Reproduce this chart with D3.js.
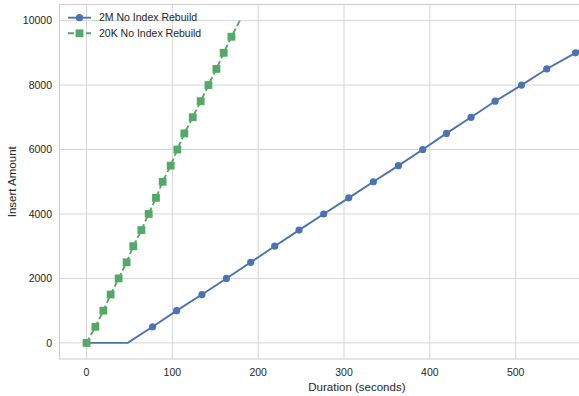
<!DOCTYPE html>
<html>
<head>
<meta charset="utf-8">
<script src="https://cdn.jsdelivr.net/npm/d3@7"></script>
<style>
  html, body { margin: 0; padding: 0; background: #fff; }
  svg { display: block; font-family: "Liberation Sans", Arial, sans-serif; }
</style>
</head>
<body>
<div id="chart"></div>
<script>
// 2M series (seconds, rows inserted)
const blueTime = [0, 48, 77, 105, 134.5, 163, 191.3, 219.2, 247.6, 276.3, 305.5, 334.2,
  363.4, 391.7, 419.3, 448, 476, 506.8, 536.2, 569.7, 600, 630];
const blueInsert = [0, 0, 500, 1000, 1500, 2000, 2500, 3000, 3500, 4000, 4500, 5000,
  5500, 6000, 6500, 7000, 7500, 8000, 8500, 9000, 9500, 10000];
const blueUnmarked = [1];

// 20K series
const greenTime = [0, 10.3, 19.6, 28.1, 37.4, 46.7, 54.5, 63.9, 72.4, 80.9, 88.7,
  98, 105.8, 113.9, 123.7, 133, 142, 151.3, 159.8, 168.8, 178.6];
const greenInsert = [0, 500, 1000, 1500, 2000, 2500, 3000, 3500, 4000, 4500, 5000,
  5500, 6000, 6500, 7000, 7500, 8000, 8500, 9000, 9500, 10000];
const greenUnmarked = [20];

const xTicks = [0, 100, 200, 300, 400, 500];
const yTicks = [0, 2000, 4000, 6000, 8000, 10000];
const seriesNames = ['2M No Index Rebuild', '20K No Index Rebuild'];

const W = 579, H = 396;
const plotL = 59.5, plotR = 654.3, plotT = 4.5, plotB = 359;

const x = d3.scaleLinear().domain([-31.5, 661.5]).range([plotL, plotR]);
const y = d3.scaleLinear().domain([-500, 10500]).range([plotB, plotT]);

const svg = d3.select('#chart').append('svg')
  .attr('width', W).attr('height', H);

svg.append('defs').append('clipPath').attr('id', 'plot-clip')
  .append('rect')
  .attr('x', plotL).attr('y', plotT)
  .attr('width', plotR - plotL).attr('height', plotB - plotT);

const grid = svg.append('g');
grid.selectAll('line.gx').data(xTicks).enter().append('line')
  .attr('x1', d => x(d)).attr('x2', d => x(d))
  .attr('y1', plotT).attr('y2', plotB)
  .attr('stroke', '#d6d6d6').attr('stroke-width', 1);
grid.selectAll('line.gy').data(yTicks).enter().append('line')
  .attr('x1', plotL).attr('x2', plotR)
  .attr('y1', d => y(d)).attr('y2', d => y(d))
  .attr('stroke', '#d6d6d6').attr('stroke-width', 1);

// spines
svg.append('rect')
  .attr('x', plotL).attr('y', plotT)
  .attr('width', plotR - plotL).attr('height', plotB - plotT)
  .attr('fill', 'none').attr('stroke', '#cccccc').attr('stroke-width', 1);

// tick labels
svg.append('g').selectAll('text').data(xTicks).enter().append('text')
  .attr('x', d => x(d)).attr('y', 375.5)
  .attr('text-anchor', 'middle')
  .attr('font-size', '10.5px').attr('fill', '#262626')
  .text(d => d);
svg.append('g').selectAll('text').data(yTicks).enter().append('text')
  .attr('x', 52).attr('y', d => y(d)).attr('dy', '0.36em')
  .attr('text-anchor', 'end')
  .attr('font-size', '10.5px').attr('fill', '#262626')
  .text(d => d);

svg.append('text')
  .attr('x', (plotL + plotR) / 2).attr('y', 391)
  .attr('text-anchor', 'middle')
  .attr('font-size', '11.5px').attr('fill', '#262626')
  .text('Duration (seconds)');
svg.append('text')
  .attr('transform', `translate(16,${(plotT + plotB) / 2}) rotate(-90)`)
  .attr('text-anchor', 'middle')
  .attr('font-size', '11.5px').attr('fill', '#262626')
  .text('Insert Amount');

const plot = svg.append('g').attr('clip-path', 'url(#plot-clip)');
const line = d3.line().x(d => x(d[0])).y(d => y(d[1]));

const blueData = blueTime.map((t, i) => [t, blueInsert[i]]);
const greenData = greenTime.map((t, i) => [t, greenInsert[i]]);

plot.append('path').datum(blueData)
  .attr('d', line).attr('fill', 'none')
  .attr('stroke', '#4C72B0').attr('stroke-width', 1.9);
plot.selectAll('circle.b')
  .data(blueData.filter((d, i) => !blueUnmarked.includes(i)))
  .enter().append('circle')
  .attr('cx', d => x(d[0])).attr('cy', d => y(d[1]))
  .attr('r', 3.6).attr('fill', '#4C72B0');

plot.append('path').datum(greenData)
  .attr('d', line).attr('fill', 'none')
  .attr('stroke', '#55A868').attr('stroke-width', 1.9)
  .attr('stroke-dasharray', '6,3');
plot.selectAll('rect.g')
  .data(greenData.filter((d, i) => !greenUnmarked.includes(i)))
  .enter().append('rect')
  .attr('x', d => x(d[0]) - 3.9).attr('y', d => y(d[1]) - 3.9)
  .attr('width', 7.8).attr('height', 7.8).attr('fill', '#55A868');

// legend
const legend = svg.append('g');
const legendRows = [
  { name: seriesNames[0], color: '#4C72B0', dash: null, marker: 'circle', ly: 17.7 },
  { name: seriesNames[1], color: '#55A868', dash: '6,3', marker: 'square', ly: 33.3 }
];
legendRows.forEach(r => {
  legend.append('line')
    .attr('x1', 68).attr('x2', 91).attr('y1', r.ly).attr('y2', r.ly)
    .attr('stroke', r.color).attr('stroke-width', 1.9)
    .attr('stroke-dasharray', r.dash);
  if (r.marker === 'circle') {
    legend.append('circle').attr('cx', 79.5).attr('cy', r.ly).attr('r', 3.6).attr('fill', r.color);
  } else {
    legend.append('rect').attr('x', 75.6).attr('y', r.ly - 3.9)
      .attr('width', 7.8).attr('height', 7.8).attr('fill', r.color);
  }
  legend.append('text')
    .attr('x', 99).attr('y', r.ly).attr('dy', '0.36em')
    .attr('font-size', '10.5px').attr('fill', '#262626')
    .text(r.name);
});
</script>
</body>
</html>
